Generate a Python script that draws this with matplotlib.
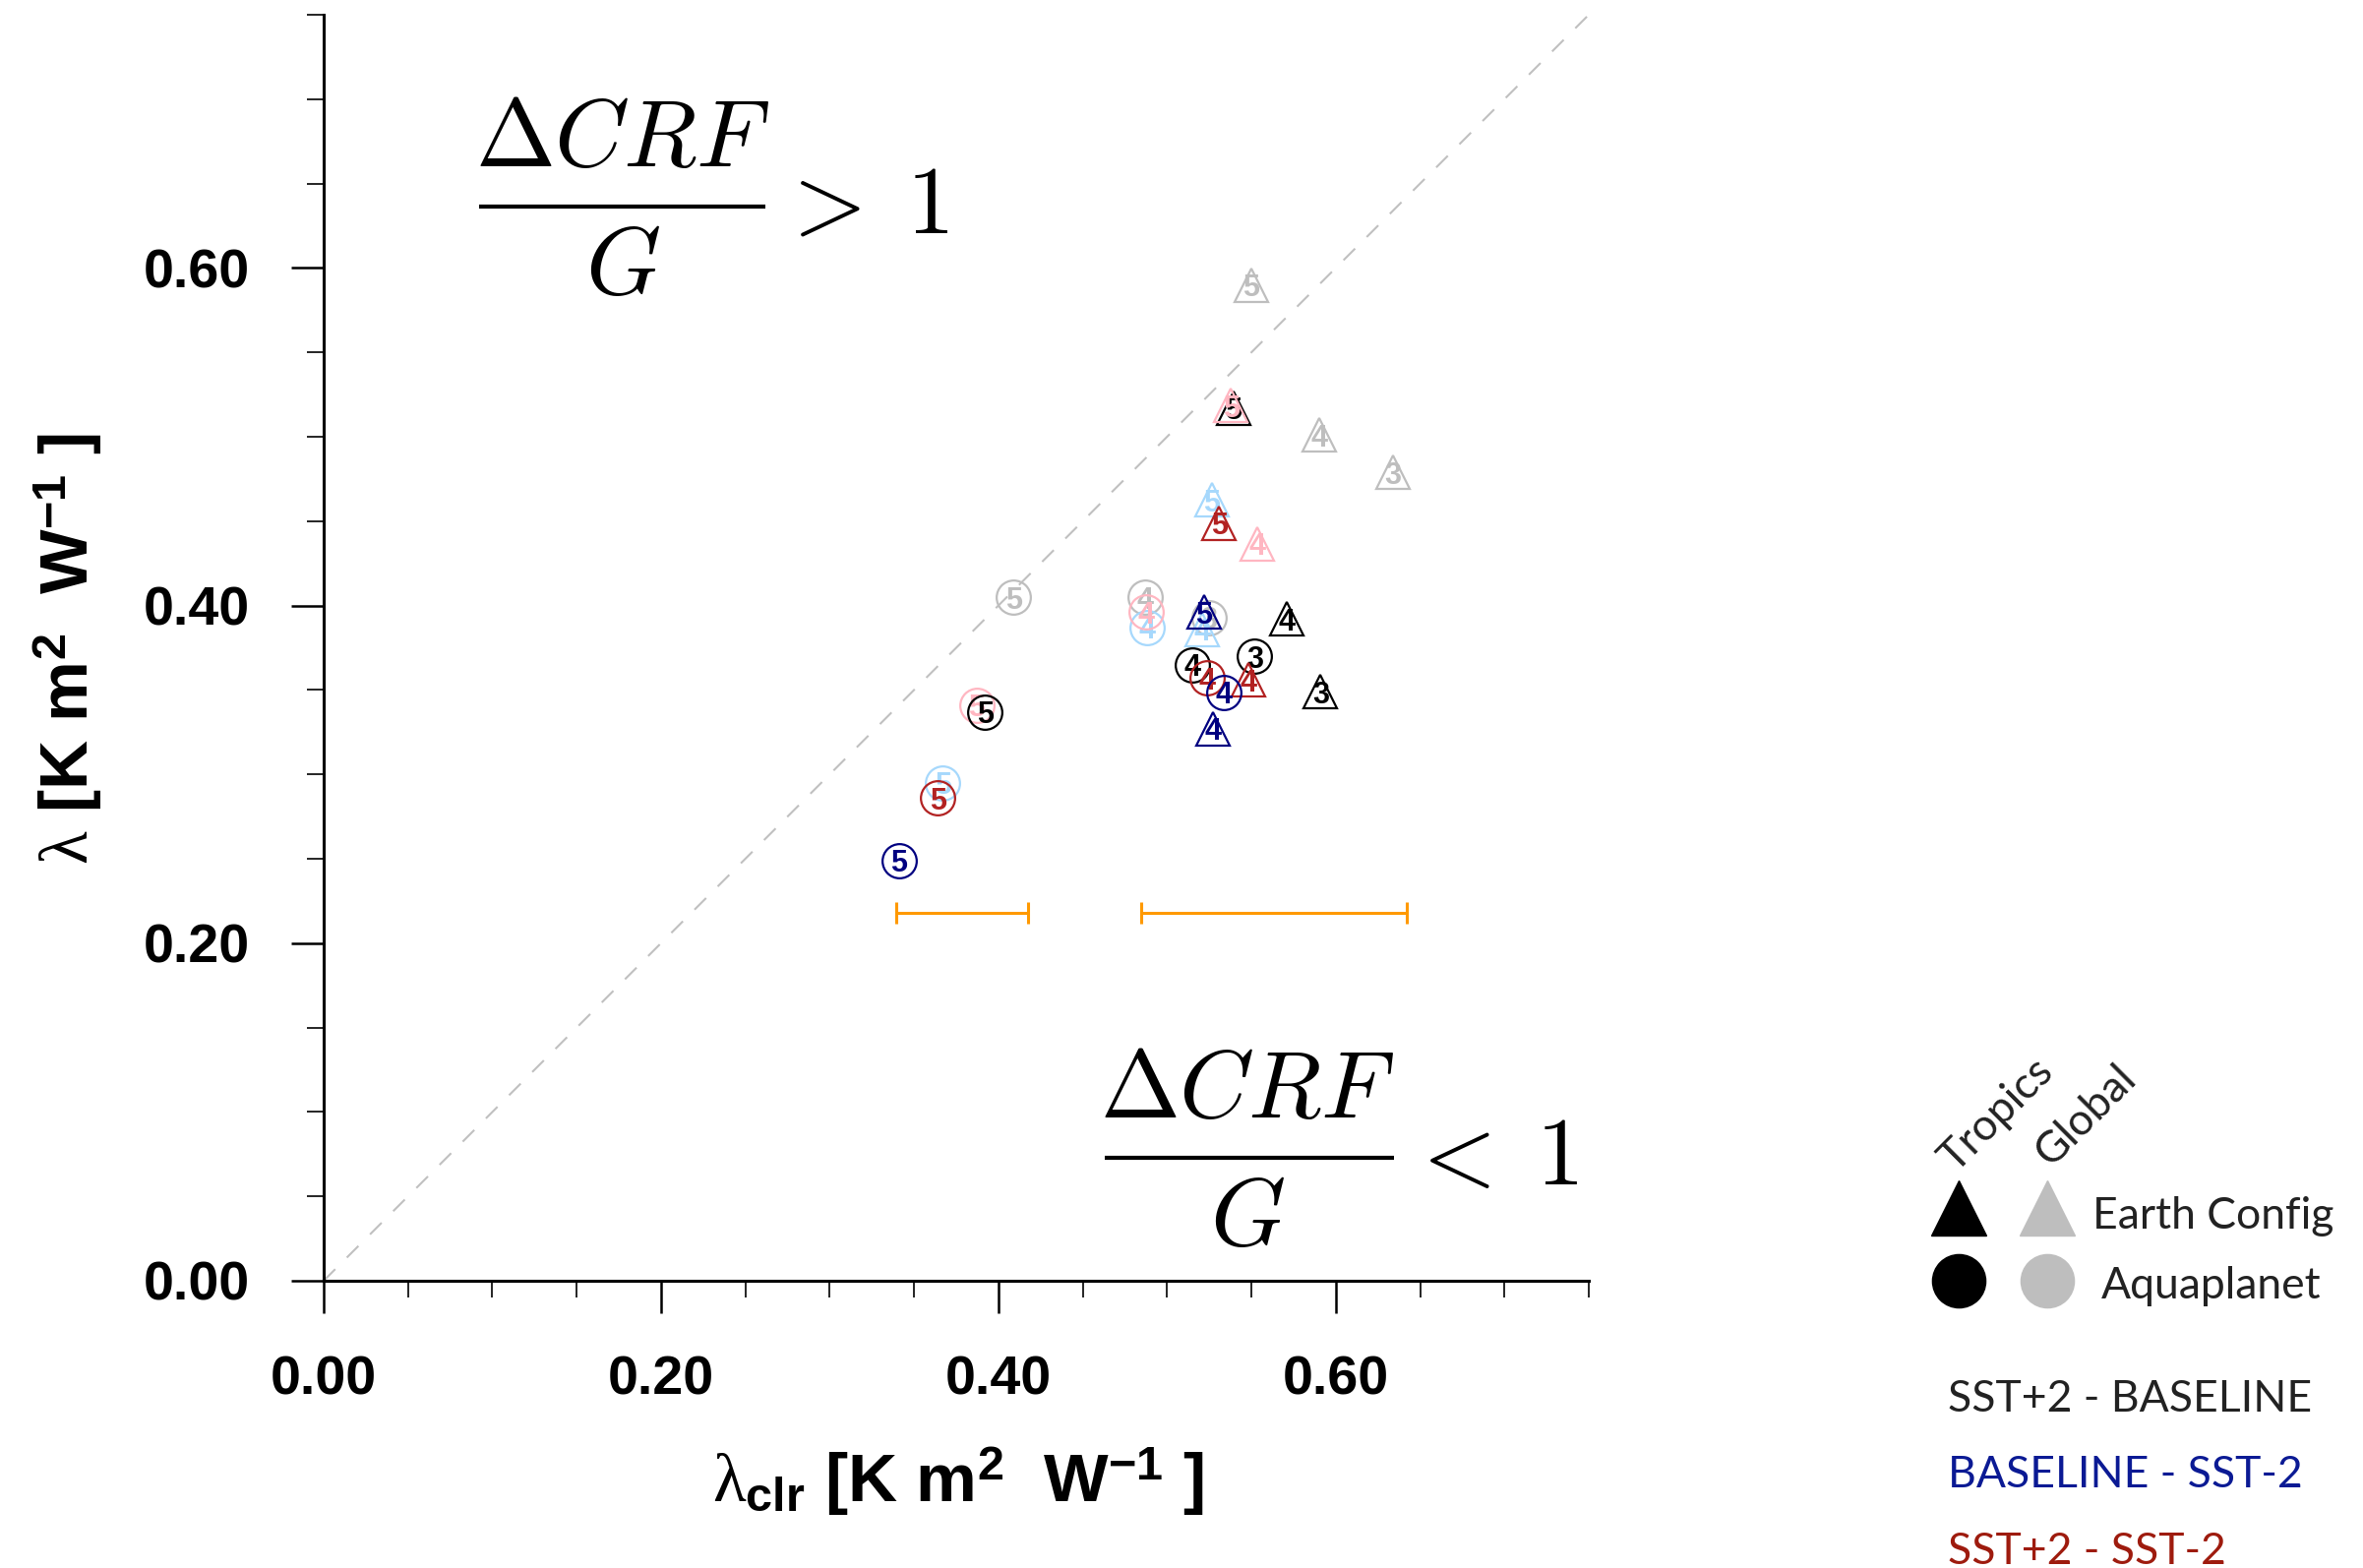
import numpy as np
import matplotlib
matplotlib.use("Agg")
import matplotlib.pyplot as plt
from matplotlib.ticker import MultipleLocator, FormatStrFormatter

plt.rcParams['mathtext.fontset'] = 'custom'
plt.rcParams['mathtext.rm'] = 'Liberation Sans:bold'
plt.rcParams['mathtext.bf'] = 'Liberation Sans:bold'
plt.rcParams['mathtext.it'] = 'Liberation Serif'

# ids of the model runs written inside the markers
ids3 = ['3', '4', '5']
ids2 = ['4', '5']

# SST+2 - BASELINE, tropics (black) / global (grey)
sb_trop_earth_x = [0.591, 0.571, 0.5395]
sb_trop_earth_y = [0.349, 0.392, 0.517]
sb_trop_aqua_x = [0.552, 0.515, 0.392]
sb_trop_aqua_y = [0.370, 0.365, 0.337]
sb_glob_earth_x = [0.634, 0.590, 0.550]
sb_glob_earth_y = [0.479, 0.501, 0.590]
sb_glob_aqua_x = [0.525, 0.487, 0.409]
sb_glob_aqua_y = [0.393, 0.405, 0.405]

# BASELINE - SST-2, tropics (navy) / global (light blue)
bs_trop_earth_x = [0.527, 0.522]
bs_trop_earth_y = [0.327, 0.396]
bs_trop_aqua_x = [0.5335, 0.341]
bs_trop_aqua_y = [0.3485, 0.249]
bs_glob_earth_x = [0.521, 0.5265]
bs_glob_earth_y = [0.386, 0.4625]
bs_glob_aqua_x = [0.488, 0.367]
bs_glob_aqua_y = [0.387, 0.295]

# SST+2 - SST-2, tropics (dark red) / global (pink)
ss_trop_earth_x = [0.5485, 0.531]
ss_trop_earth_y = [0.356, 0.449]
ss_trop_aqua_x = [0.524, 0.364]
ss_trop_aqua_y = [0.357, 0.286]
ss_glob_earth_x = [0.5535, 0.538]
ss_glob_earth_y = [0.4365, 0.5185]
ss_glob_aqua_x = [0.4875, 0.387]
ss_glob_aqua_y = [0.396, 0.341]

# orange range bars
bar_lo = [0.3394, 0.4845]
bar_hi = [0.4175, 0.642]
bar_y = [0.218, 0.218]

legend_names = ['SST+2 - BASELINE', 'BASELINE - SST-2', 'SST+2 - SST-2']
legend_colors = ['#222222', '#0b1a94', '#9e1b0e']

c_black = 'black'
c_grey = '#bebebe'
c_navy = '#000080'
c_lblue = '#a6d8fc'
c_red = '#b22222'
c_pink = '#ffb6c1'

W, H = 2402, 1594
fig = plt.figure(figsize=(24.02, 15.94), dpi=100)
ax = fig.add_axes([329/W, 1-1302/H, 1286/W, 1287/H])

ax.set_xlim(0, 0.75)
ax.set_ylim(0, 0.75)
ax.spines['top'].set_visible(False)
ax.spines['right'].set_visible(False)
ax.spines['left'].set_linewidth(2.2)
ax.spines['bottom'].set_linewidth(2.2)
ax.xaxis.set_major_locator(MultipleLocator(0.2))
ax.yaxis.set_major_locator(MultipleLocator(0.2))
ax.xaxis.set_minor_locator(MultipleLocator(0.05))
ax.yaxis.set_minor_locator(MultipleLocator(0.05))
ax.xaxis.set_major_formatter(FormatStrFormatter('%.2f'))
ax.yaxis.set_major_formatter(FormatStrFormatter('%.2f'))
ax.tick_params(which='major', direction='out', length=24, width=1.8, pad=30)
ax.tick_params(which='minor', direction='out', length=12, width=1.2)
for lab in ax.get_xticklabels() + ax.get_yticklabels():
    lab.set_fontfamily('Liberation Sans')
    lab.set_fontweight('bold')
    lab.set_fontsize(40)

# 1:1 line
ax.plot([0, 0.75], [0, 0.75], color='#c0c0c0', lw=1.5, dashes=(8, 8), zorder=1)

# range bars
bar_lo = np.array(bar_lo)
bar_hi = np.array(bar_hi)
ax.errorbar((bar_lo + bar_hi) / 2, bar_y, xerr=(bar_hi - bar_lo) / 2, fmt='none',
            ecolor='#ff9900', elinewidth=2.2, capsize=8, capthick=2.2, zorder=2)

series = [
    # (x, y, ids, marker, colour, zorder)
    (sb_glob_earth_x, sb_glob_earth_y, ids3, '^', c_grey, 3),
    (bs_glob_earth_x, bs_glob_earth_y, ids2, '^', c_lblue, 4),
    (sb_trop_earth_x, sb_trop_earth_y, ids3, '^', c_black, 5),
    (ss_glob_earth_x, ss_glob_earth_y, ids2, '^', c_pink, 6),
    (ss_trop_earth_x, ss_trop_earth_y, ids2, '^', c_red, 7),
    (bs_trop_earth_x, bs_trop_earth_y, ids2, '^', c_navy, 8),
    (sb_glob_aqua_x, sb_glob_aqua_y, ids3, 'o', c_grey, 3),
    (bs_glob_aqua_x, bs_glob_aqua_y, ids2, 'o', c_lblue, 4),
    (ss_glob_aqua_x, ss_glob_aqua_y, ids2, 'o', c_pink, 5),
    (sb_trop_aqua_x, sb_trop_aqua_y, ids3, 'o', c_black, 6),
    (ss_trop_aqua_x, ss_trop_aqua_y, ids2, 'o', c_red, 7),
    (bs_trop_aqua_x, bs_trop_aqua_y, ids2, 'o', c_navy, 8),
]
for xs, ys, ids, mk, col, z in series:
    for x, y, s in zip(xs, ys, ids):
        ax.plot(x, y, marker=mk, ms=25, mfc='none', mec=col, mew=1.6,
                linestyle='none', zorder=z)
        ax.text(x, y, s, color=col, fontsize=22, fontweight='bold',
                family='Liberation Sans', ha='center', va='center_baseline',
                zorder=z)

# figure overlay in pixel coordinates for annotations and legend
over = fig.add_axes([0, 0, 1, 1], facecolor='none')
over.set_xlim(0, W)
over.set_ylim(H, 0)
over.axis('off')


def ratio_note(xc, ybar, x0, x1, sign, xs):
    over.text(xc, ybar - 68, r'$\Delta CRF$', math_fontfamily='cm', fontsize=70,
              ha='center', va='center')
    over.plot([x0, x1], [ybar, ybar], color='black', lw=3, solid_capstyle='butt')
    over.text(xc, ybar + 62, r'$G$', math_fontfamily='cm', fontsize=70,
              ha='center', va='center')
    over.text(xs, ybar, r'$%s\;1$' % sign, math_fontfamily='cm', fontsize=70,
              ha='center', va='center')


ratio_note(633, 210, 487, 778, '>', 876)
ratio_note(1268, 1177, 1123, 1417, '<', 1516)

# axis labels
over.text(974, 1506,
          r'$\lambda_{\mathbf{clr}}$ [K m$^{\mathbf{2}}$  W$^{\mathbf{-1}}$ ]',
          fontsize=50, fontweight='bold', family='Liberation Sans',
          ha='center', va='center')
over.text(69, 659, r'$\lambda$ [K m$^{\mathbf{2}}$  W$^{\mathbf{-1}}$ ]',
          fontsize=50, fontweight='bold', family='Liberation Sans',
          rotation=90, ha='center', va='center')

# legend
over.text(1988, 1193, 'Tropics', rotation=45, rotation_mode='anchor',
          ha='left', va='baseline', fontsize=32, family='Lato', color='#222222')
over.text(2085, 1187, 'Global', rotation=45, rotation_mode='anchor',
          ha='left', va='baseline', fontsize=32, family='Lato', color='#222222')
over.plot([1991], [1228], marker='^', ms=40, color='black', linestyle='none')
over.plot([2081], [1228], marker='^', ms=40, color=c_grey, linestyle='none')
over.plot([1991], [1302], marker='o', ms=39, color='black', linestyle='none')
over.plot([2081], [1302], marker='o', ms=39, color=c_grey, linestyle='none')
over.text(2127, 1249, 'Earth Config', fontsize=32, family='Lato',
          color='#222222', va='baseline', ha='left')
over.text(2136, 1320, 'Aquaplanet', fontsize=32, family='Lato',
          color='#222222', va='baseline', ha='left')
for i, (name, col) in enumerate(zip(legend_names, legend_colors)):
    over.text(1980, 1435 + i * 77.5, name, fontsize=32, family='Lato',
              color=col, va='baseline', ha='left')

fig.savefig('out.png', dpi=100)
